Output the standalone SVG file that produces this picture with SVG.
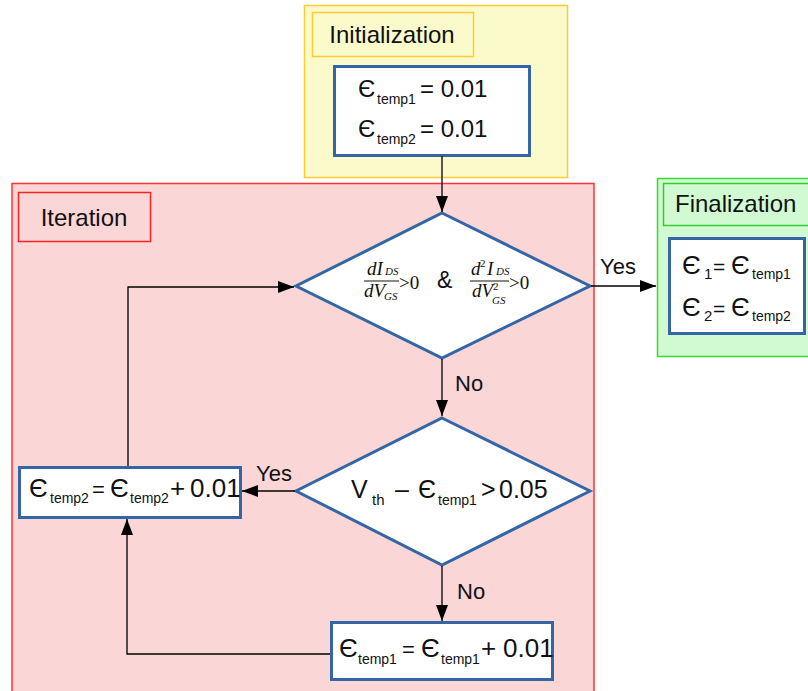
<svg xmlns="http://www.w3.org/2000/svg" width="808" height="691" viewBox="0 0 808 691">
<defs>
<marker id="ah" markerUnits="userSpaceOnUse" markerWidth="16" markerHeight="12" refX="16" refY="6" orient="auto">
<path d="M0,0 L16,6 L0,12 z" fill="#000"/>
</marker>
<style>
.t{font-family:"Liberation Sans",Arial,sans-serif;fill:#111}
.m{font-family:"Liberation Serif","Times New Roman",serif;font-style:italic;fill:#111}
.r{font-family:"Liberation Serif","Times New Roman",serif;fill:#111}
.box{fill:#fff;stroke:#3465a4;stroke-width:3}
.arr{fill:none;stroke:#000;stroke-width:1.3;marker-end:url(#ah)}
</style>
</defs>
<rect width="808" height="691" fill="#fff"/>

<g id="initialization">
<rect x="304.5" y="5.5" width="263" height="172" fill="#fbfacb" stroke="#ffcc33" stroke-width="1.5"/>
<rect x="312.5" y="12.5" width="161" height="44" fill="#fbfacb" stroke="#ffcc33" stroke-width="1.5"/>
<text class="t" x="392" y="43" font-size="24" text-anchor="middle">Initialization</text>
</g>

<g id="iteration">
<rect x="12" y="183.5" width="582" height="512" fill="#fad6d6" stroke="#ff3333" stroke-width="1.5"/>
<rect x="18.5" y="192.5" width="132" height="49" fill="#fad6d6" stroke="#ff2222" stroke-width="1.5"/>
<text class="t" x="84" y="226" font-size="24" text-anchor="middle">Iteration</text>
</g>

<g id="finalization">
<rect x="657.5" y="178.5" width="160" height="178" fill="#d2fad2" stroke="#33dd33" stroke-width="1.5"/>
<rect x="663.5" y="183.5" width="160" height="42" fill="#d2fad2" stroke="#33cc33" stroke-width="1.5"/>
<text class="t" x="675" y="212" font-size="24">Finalization</text>
</g>

<g id="init-box">
<rect class="box" x="334.5" y="66.5" width="195" height="89"/>
<text class="t" font-size="24"><tspan x="358" y="97">Є</tspan><tspan x="377" y="104" font-size="14">temp1</tspan><tspan x="420" y="97">= 0.01</tspan></text>
<text class="t" font-size="24"><tspan x="358" y="137">Є</tspan><tspan x="377" y="144" font-size="14">temp2</tspan><tspan x="420" y="137">= 0.01</tspan></text>
</g>

<g id="final-box">
<rect class="box" x="669.5" y="238.5" width="135" height="95"/>
<text class="t" font-size="26"><tspan x="682" y="274">Є</tspan><tspan x="704" y="279" font-size="15">1</tspan><tspan x="713" y="274" font-size="21">=</tspan><tspan x="731" y="274">Є</tspan><tspan x="752" y="279" font-size="14">temp1</tspan></text>
<text class="t" font-size="26"><tspan x="682" y="316">Є</tspan><tspan x="704" y="321" font-size="15">2</tspan><tspan x="713" y="316" font-size="21">=</tspan><tspan x="731" y="316">Є</tspan><tspan x="752" y="321" font-size="14">temp2</tspan></text>
</g>

<g id="decision1">
<polygon points="442,213 590,286 442,358 296,286" fill="#fff" stroke="#3465a4" stroke-width="3"/>
<text class="m" font-size="19"><tspan x="367" y="275">dI</tspan><tspan x="385" y="275" font-size="11">DS</tspan></text>
<line x1="364" y1="281" x2="399" y2="281" stroke="#111" stroke-width="1"/>
<text class="m" font-size="19"><tspan x="364" y="297">dV</tspan><tspan x="384" y="300" font-size="11">GS</tspan></text>
<text class="r" x="399" y="289" font-size="19">&gt;0</text>
<text class="t" x="437" y="288" font-size="23">&amp;</text>
<text class="m" font-size="19"><tspan x="471" y="275">d</tspan><tspan x="480" y="267" font-size="11" font-style="normal">2</tspan><tspan x="487" y="275">I</tspan><tspan x="496" y="275" font-size="11">DS</tspan></text>
<line x1="470" y1="281" x2="509" y2="281" stroke="#111" stroke-width="1"/>
<text class="m" font-size="19"><tspan x="472" y="297">dV</tspan><tspan x="493" y="290" font-size="11" font-style="normal">2</tspan><tspan x="492" y="304" font-size="11">GS</tspan></text>
<text class="r" x="509" y="289" font-size="19">&gt;0</text>
</g>

<g id="decision2">
<polygon points="442,418 590,491 442,565 296,491" fill="#fff" stroke="#3465a4" stroke-width="3"/>
<text class="t" font-size="25"><tspan x="351" y="498">V</tspan><tspan x="372" y="505" font-size="15">th</tspan><tspan x="395" y="498">–</tspan><tspan x="418" y="498">Є</tspan><tspan x="438" y="505" font-size="14">temp1</tspan><tspan x="481" y="498">&gt;</tspan><tspan x="499" y="498">0.05</tspan></text>
</g>

<g id="update2">
<rect class="box" x="19.5" y="467.5" width="221" height="50"/>
<text class="t" font-size="26"><tspan x="29" y="497">Є</tspan><tspan x="50" y="503" font-size="14">temp2</tspan><tspan x="92" y="497" font-size="22">=</tspan><tspan x="110" y="497">Є</tspan><tspan x="130" y="503" font-size="14">temp2</tspan><tspan x="170" y="497">+</tspan><tspan x="190" y="497">0.01</tspan></text>
</g>

<g id="update1">
<rect class="box" x="331.5" y="622.5" width="221" height="57"/>
<text class="t" font-size="26"><tspan x="339" y="657">Є</tspan><tspan x="358" y="664" font-size="14">temp1</tspan><tspan x="402" y="657" font-size="22">=</tspan><tspan x="421" y="657">Є</tspan><tspan x="441" y="664" font-size="14">temp1</tspan><tspan x="481" y="657">+</tspan><tspan x="503" y="657">0.01</tspan></text>
</g>

<g id="connectors">
<line class="arr" x1="442" y1="156" x2="442" y2="212"/>
<line class="arr" x1="591" y1="286" x2="656" y2="286"/>
<line class="arr" x1="442" y1="359" x2="442" y2="416"/>
<line class="arr" x1="295" y1="491" x2="242" y2="491"/>
<line class="arr" x1="442" y1="566" x2="442" y2="621"/>
<polyline class="arr" points="330,654 127,654 127,519"/>
<polyline class="arr" points="128,466 128,287 294,287"/>
<text class="t" x="600" y="274" font-size="22">Yes</text>
<text class="t" x="455" y="391" font-size="22">No</text>
<text class="t" x="256" y="481" font-size="22">Yes</text>
<text class="t" x="457" y="599" font-size="22">No</text>
</g>
</svg>
